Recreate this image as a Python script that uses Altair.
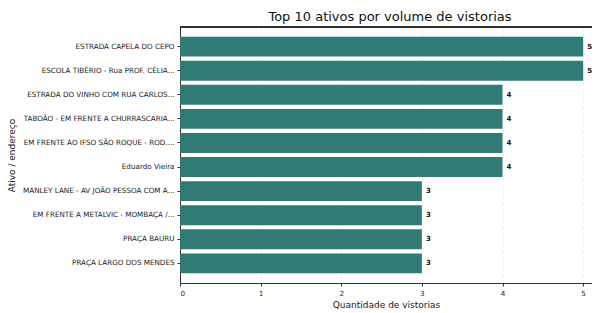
import altair as alt
import pandas as pd

ativos = [
    "ESTRADA CAPELA DO CEPO",
    "ESCOLA TIBÉRIO - Rua PROF. CÉLIA...",
    "ESTRADA DO VINHO COM RUA CARLOS...",
    "TABOÃO - EM FRENTE A CHURRASCARIA...",
    "EM FRENTE AO IFSO SÃO ROQUE - ROD....",
    "Eduardo Vieira",
    "MANLEY LANE - AV JOÃO PESSOA COM A...",
    "EM FRENTE A METALVIC - MOMBAÇA /...",
    "PRAÇA BAURU",
    "PRAÇA LARGO DOS MENDES",
]
vistorias = [5, 5, 4, 4, 4, 4, 3, 3, 3, 3]

df = pd.DataFrame({"ativo": ativos, "n": vistorias})

FONT = "DejaVu Sans"
COLOR = "#2c7873"
W = 412
H = 256

y_enc = alt.Y(
    "ativo:N",
    sort=ativos,
    title="Ativo / endereço",
    scale=alt.Scale(paddingInner=0.17, paddingOuter=0.4),
    axis=alt.Axis(
        labelFont=FONT, labelFontSize=7.2, labelColor="#222", tickSize=3,
        tickColor="#333", domainColor="#333", titleFont=FONT, titleFontSize=9,
        titleFontWeight="normal", titleColor="#222", labelPadding=3, titlePadding=6,
        grid=False, labelLimit=200,
    ),
)

x_enc = alt.X(
    "n:Q",
    title="Quantidade de vistorias",
    scale=alt.Scale(domain=[0, 5.11], nice=False),
    axis=alt.Axis(
        values=[0, 1, 2, 3, 4, 5], format="d", labelFont=FONT, labelFontSize=7.2,
        labelColor="#222", tickSize=3, tickColor="#333", domainColor="#333",
        titleFont=FONT, titleFontSize=9, titleFontWeight="normal", titleColor="#222",
        grid=True, gridDash=[3, 3], gridColor="#e6e6e6", gridWidth=0.8,
        labelPadding=3, titlePadding=4,
    ),
)

bars = alt.Chart(df).mark_bar(color=COLOR, opacity=0.98).encode(x=x_enc, y=y_enc)

labels = alt.Chart(df).mark_text(
    align="left", baseline="middle", dx=4, font=FONT, fontSize=7,
    fontWeight="bold", color="#111",
).encode(x=alt.X("n:Q"), y=alt.Y("ativo:N", sort=ativos), text=alt.Text("n:Q", format="d"))

top_line = alt.Chart(df).mark_rule(color="#333", strokeWidth=1).encode(
    x=alt.value(0), x2=alt.value(W), y=alt.value(0)
)

chart = (
    alt.layer(bars, labels, top_line)
    .properties(
        width=W,
        height=H,
        autosize=alt.AutoSizeParams(type="none"),
        padding={"left": 172, "top": 19, "right": 0, "bottom": 30},
        title=alt.TitleParams(
            "Top 10 ativos por volume de vistorias", font=FONT, fontSize=13,
            fontWeight="normal", color="#111", anchor="middle", offset=3, dx=4,
        ),
    )
    .configure_view(strokeWidth=0)
    .configure(background="white")
)

chart.save("out.html", embed_options={"renderer": "svg", "actions": False})
